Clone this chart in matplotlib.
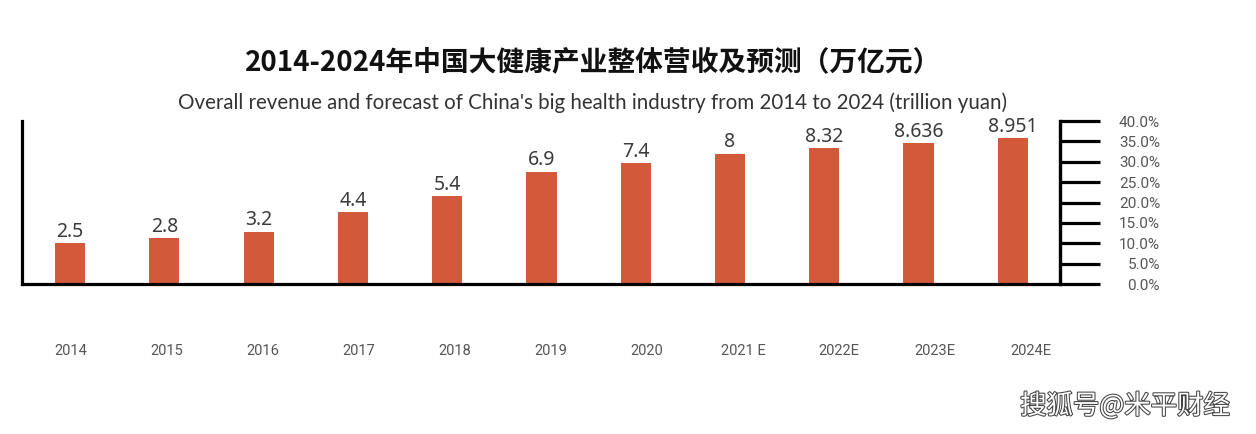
import numpy as np
import matplotlib
matplotlib.use("Agg")
import matplotlib.pyplot as plt
import matplotlib.patheffects as pe

plt.rcParams['font.family'] = ['Noto Sans CJK SC', 'DejaVu Sans']

# data
years = ["2014", "2015", "2016", "2017", "2018", "2019", "2020",
         "2021 E", "2022E", "2023E", "2024E"]
revenue = [2.5, 2.8, 3.2, 4.4, 5.4, 6.9, 7.4, 8, 8.32, 8.636, 8.951]
value_labels = ["2.5", "2.8", "3.2", "4.4", "5.4", "6.9", "7.4",
                "8", "8.32", "8.636", "8.951"]
pct_ticks = [0, 5, 10, 15, 20, 25, 30, 35, 40]

bar_color = "#D3593B"

fig = plt.figure(figsize=(12.56, 4.34), dpi=100)
ax = fig.add_axes([22 / 1256, 1 - 284 / 434, (1060 - 22) / 1256, (284 - 121) / 434])

x = np.arange(len(years))
bars = ax.bar(x, revenue, width=0.32, color=bar_color, zorder=2)
for b, lab in zip(bars, value_labels):
    ax.annotate(lab, (b.get_x() + b.get_width() / 2, b.get_height()),
                xytext=(0, 1), textcoords="offset points",
                ha="center", va="bottom", fontsize=14, color="#3a3a3a",
                family=["Noto Sans", "DejaVu Sans"])

ax.set_xlim(-0.51, 10.5)
ax.set_ylim(0, 10)

ax.spines["top"].set_visible(False)
for side in ["left", "bottom", "right"]:
    ax.spines[side].set_linewidth(2.3)
    ax.spines[side].set_color("black")
ax.set_yticks([])

# year labels sit a bit lower and drift slightly right of the bars
ax.set_xticks(0.01 + x * 1.018)
ax.set_xticklabels(years, fontsize=10.5, color="#555555",
                   family=["Roboto", "DejaVu Sans"])
ax.tick_params(axis="x", length=0, pad=43)

# right percentage axis
ax2 = ax.twinx()
ax2.set_ylim(0, 40)
ax2.set_yticks(pct_ticks)
ax2.set_yticklabels([f"{p:.1f}%" for p in pct_ticks], fontsize=11,
                    color="#555555", family=["Roboto", "DejaVu Sans"])
for lab in ax2.get_yticklabels():
    lab.set_horizontalalignment("right")
ax2.tick_params(axis="y", direction="out", length=29, width=2.3, pad=43)
for side in ["top", "left", "bottom"]:
    ax2.spines[side].set_visible(False)
ax2.spines["right"].set_linewidth(2.3)

fig.text(593 / 1256, 1 - 62 / 434, "2014-2024年中国大健康产业整体营收及预测（万亿元）",
         ha="center", va="center", fontsize=20, fontweight="bold", color="#111111")
fig.text(593 / 1256, 1 - 103 / 434,
         "Overall revenue and forecast of China's big health industry from 2014 to 2024 (trillion yuan)",
         ha="center", va="center", fontsize=14.8, color="#333333",
         family=["Lato", "DejaVu Sans"])

fig.text(1125 / 1256, 1 - 406 / 434, "搜狐号@米平财经", ha="center", va="center",
         fontsize=19, color="white",
         path_effects=[pe.withStroke(linewidth=1.5, foreground="#444444")])

fig.savefig("out.png", dpi=100)
